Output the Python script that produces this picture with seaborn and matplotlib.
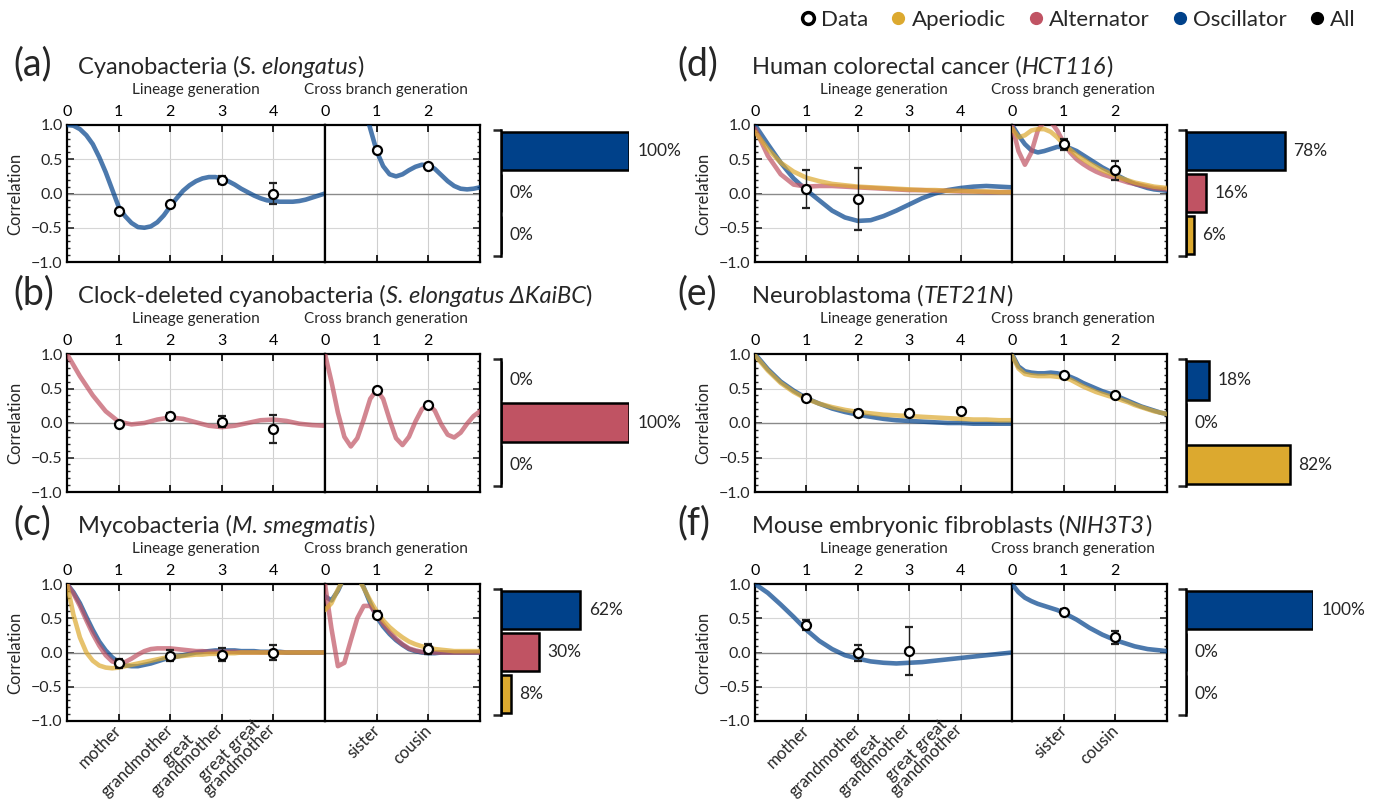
import numpy as np
import pandas as pd
import matplotlib
matplotlib.use("Agg")
import matplotlib.pyplot as plt
import seaborn as sns
from matplotlib.ticker import MultipleLocator, NullLocator
from matplotlib.lines import Line2D

sns.set_theme(style="white")
plt.rcParams['font.family'] = ['Lato', 'DejaVu Sans']
plt.rcParams['axes.unicode_minus'] = True

W, H = 1382, 802

# ---------------- data ----------------
LIN_X = [0.0, 0.25, 0.5, 0.75, 1.0, 1.25, 1.5, 1.75, 2.0, 2.25, 2.5, 2.75, 3.0,
         3.25, 3.5, 3.75, 4.0, 4.25, 4.5, 4.75, 5.0]
LIN_X_FINE = [0.0, 0.125, 0.25, 0.375, 0.5, 0.625, 0.75, 0.875, 1.0, 1.125, 1.25, 1.375,
              1.5, 1.625, 1.75, 1.875, 2.0, 2.125, 2.25, 2.375, 2.5, 2.625, 2.75, 2.875,
              3.0, 3.125, 3.25, 3.375, 3.5, 3.625, 3.75, 3.875, 4.0, 4.125, 4.25, 4.375,
              4.5, 4.625, 4.75, 4.875, 5.0]
CROSS_X = [0.0, 0.125, 0.25, 0.375, 0.5, 0.625, 0.75, 0.875, 1.0, 1.125, 1.25,
           1.375, 1.5, 1.625, 1.75, 1.875, 2.0, 2.125, 2.25, 2.375, 2.5, 2.625,
           2.75, 2.875, 3.0]
LIN_TICKS = [0, 1, 2, 3, 4]
CROSS_TICKS = [0, 1, 2]
LIN_NAMES = ["mother", "grandmother", "great\ngrandmother", "great great\ngrandmother"]
CROSS_NAMES = ["sister", "cousin"]
CATEGORIES = ["Oscillator", "Alternator", "Aperiodic"]
COLORS = {"Oscillator": "#00418a", "Alternator": "#c05363", "Aperiodic": "#dca92f"}

# (a) Cyanobacteria
a_lin_osc = [1.0, 0.99, 0.94, 0.85, 0.72, 0.53, 0.31, 0.06, -0.19, -0.33, -0.43, -0.49,
             -0.5, -0.48, -0.42, -0.32, -0.19, -0.07, 0.04, 0.12, 0.18, 0.22, 0.24, 0.24,
             0.22, 0.18, 0.13, 0.07, 0.02, -0.03, -0.07, -0.1, -0.11, -0.12, -0.12, -0.12,
             -0.11, -0.09, -0.06, -0.03, 0.0]
a_cross_osc = [3.5, 3.1, 2.7, 2.35, 2.0, 1.65, 1.3, 0.95, 0.62, 0.4, 0.28, 0.25, 0.28, 0.34,
               0.39, 0.42, 0.41, 0.36, 0.27, 0.18, 0.11, 0.07, 0.06, 0.07, 0.09]
a_lin_pts_x = [1, 2, 3, 4]
a_lin_pts = [-0.25, -0.16, 0.2, 0.0]
a_lin_err = [0.03, 0.03, 0.06, 0.16]
a_cross_pts_x = [1, 2]
a_cross_pts = [0.63, 0.4]
a_cross_err = [0.04, 0.02]
a_bars = [100, 0, 0]

# (b) Clock-deleted cyanobacteria
b_lin_alt = [1.0, 0.68, 0.4, 0.17, 0.02, -0.02, 0.0, 0.05, 0.08, 0.06, 0.01, -0.04, -0.06,
             -0.04, 0.0, 0.04, 0.05, 0.03, -0.01, -0.03, -0.04]
b_cross_alt = [1.0, 0.6, 0.15, -0.2, -0.34, -0.22, 0.05, 0.35, 0.48, 0.35, 0.05, -0.22, -0.32,
               -0.2, 0.02, 0.2, 0.27, 0.18, -0.02, -0.17, -0.21, -0.14, -0.01, 0.1, 0.17]
b_lin_pts_x = [1, 2, 3, 4]
b_lin_pts = [-0.02, 0.1, 0.02, -0.09]
b_lin_err = [0.04, 0.05, 0.08, 0.2]
b_cross_pts_x = [1, 2]
b_cross_pts = [0.48, 0.26]
b_cross_err = [0.03, 0.03]
b_bars = [0, 100, 0]

# (c) Mycobacteria
c_lin_osc = [1.0, 0.88, 0.72, 0.52, 0.33, 0.16, 0.03, -0.07, -0.14, -0.19, -0.2, -0.2,
             -0.18, -0.16, -0.13, -0.1, -0.08, -0.06, -0.04, -0.02, 0.0, 0.01, 0.02, 0.03,
             0.03, 0.03, 0.03, 0.02, 0.02, 0.02, 0.01, 0.01, 0.01, 0.01, 0.0, 0.0, 0.0,
             0.0, 0.0, 0.0, 0.0]
c_lin_alt = [1.0, 0.86, 0.68, 0.47, 0.27, 0.1, -0.04, -0.13, -0.16, -0.14, -0.09, -0.03,
             0.02, 0.05, 0.06, 0.06, 0.06, 0.05, 0.04, 0.03, 0.02, 0.02, 0.01, 0.01, 0.01,
             0.01, 0.01, 0.0, 0.0, 0.0, 0.0, 0.0, 0.0, 0.0, 0.0, 0.0, 0.0, 0.0, 0.0, 0.0,
             0.0]
c_lin_aper = [1.0, 0.55, 0.22, 0.0, -0.12, -0.19, -0.22, -0.23, -0.22, -0.2, -0.18, -0.16,
              -0.14, -0.12, -0.1, -0.08, -0.07, -0.06, -0.05, -0.04, -0.03, -0.03, -0.02,
              -0.02, -0.01, -0.01, -0.01, 0.0, 0.0, 0.0, 0.0, 0.0, 0.0, 0.0, 0.0, 0.0, 0.0,
              0.0, 0.0, 0.0, 0.0]
c_cross_osc = [0.82, 0.76, 0.9, 1.1, 1.2, 1.12, 0.95, 0.72, 0.52, 0.38, 0.27, 0.18, 0.11,
               0.05, 0.02, 0.0, -0.01, -0.01, 0.0, 0.0, 0.0, 0.0, 0.0, 0.0, 0.0]
c_cross_alt = [1.0, 0.35, -0.2, -0.15, 0.18, 0.5, 0.68, 0.68, 0.56, 0.42, 0.3, 0.2, 0.12,
               0.06, 0.03, 0.01, 0.0, 0.0, 0.0, 0.0, 0.0, 0.0, 0.0, 0.0, 0.0]
c_cross_aper = [0.62, 0.72, 0.92, 1.1, 1.2, 1.12, 0.94, 0.76, 0.6, 0.47, 0.37, 0.29, 0.22,
                0.16, 0.12, 0.09, 0.07, 0.05, 0.04, 0.03, 0.02, 0.02, 0.02, 0.02, 0.02]
c_lin_pts_x = [1, 2, 3, 4]
c_lin_pts = [-0.16, -0.05, -0.03, 0.0]
c_lin_err = [0.07, 0.08, 0.09, 0.11]
c_cross_pts_x = [1, 2]
c_cross_pts = [0.55, 0.05]
c_cross_err = [0.05, 0.07]
c_bars = [62, 30, 8]

# (d) Human colorectal cancer
d_lin_osc = [1.0, 0.72, 0.45, 0.22, 0.05, -0.1, -0.25, -0.35, -0.4, -0.39, -0.33, -0.25,
             -0.16, -0.07, 0.0, 0.05, 0.08, 0.1, 0.11, 0.1, 0.09]
d_lin_alt = [0.95, 0.55, 0.28, 0.13, 0.1, 0.11, 0.11, 0.1, 0.09, 0.08, 0.07, 0.06, 0.05,
             0.05, 0.04, 0.04, 0.03, 0.03, 0.02, 0.02, 0.02]
d_lin_aper = [0.9, 0.65, 0.45, 0.32, 0.23, 0.18, 0.14, 0.12, 0.1, 0.09, 0.08, 0.07, 0.06,
              0.05, 0.05, 0.04, 0.04, 0.03, 0.03, 0.02, 0.02]
d_cross_osc = [1.0, 0.85, 0.72, 0.63, 0.6, 0.62, 0.65, 0.68, 0.68, 0.66, 0.62, 0.56, 0.5,
               0.44, 0.38, 0.33, 0.28, 0.23, 0.18, 0.14, 0.11, 0.08, 0.06, 0.05, 0.04]
d_cross_alt = [1.0, 0.62, 0.42, 0.6, 0.92, 1.05, 1.05, 0.92, 0.74, 0.6, 0.5, 0.43, 0.37,
               0.32, 0.28, 0.25, 0.22, 0.19, 0.16, 0.14, 0.12, 0.1, 0.08, 0.07, 0.06]
d_cross_aper = [0.95, 0.82, 0.85, 0.92, 0.94, 0.94, 0.9, 0.82, 0.72, 0.64, 0.56, 0.5, 0.44,
                0.39, 0.34, 0.3, 0.26, 0.22, 0.19, 0.16, 0.14, 0.12, 0.1, 0.09, 0.08]
d_lin_pts_x = [1, 2]
d_lin_pts = [0.07, -0.08]
d_lin_err = [0.28, 0.45]
d_cross_pts_x = [1, 2]
d_cross_pts = [0.72, 0.34]
d_cross_err = [0.08, 0.14]
d_bars = [78, 16, 6]

# (e) Neuroblastoma
e_lin_osc = [1.0, 0.78, 0.6, 0.47, 0.36, 0.28, 0.21, 0.16, 0.12, 0.09, 0.06, 0.04, 0.03,
             0.02, 0.01, 0.0, 0.0, -0.01, -0.01, -0.01, -0.01]
e_lin_aper = [0.98, 0.76, 0.58, 0.45, 0.35, 0.28, 0.23, 0.19, 0.16, 0.14, 0.12, 0.11, 0.1,
              0.09, 0.08, 0.07, 0.06, 0.05, 0.05, 0.04, 0.04]
e_cross_osc = [1.0, 0.82, 0.75, 0.73, 0.72, 0.72, 0.73, 0.72, 0.7, 0.67, 0.63, 0.58, 0.54,
               0.5, 0.46, 0.43, 0.4, 0.36, 0.32, 0.28, 0.24, 0.21, 0.18, 0.15, 0.13]
e_cross_aper = [0.98, 0.79, 0.71, 0.69, 0.68, 0.68, 0.68, 0.67, 0.66, 0.63, 0.58, 0.53, 0.49,
                0.45, 0.42, 0.39, 0.37, 0.33, 0.3, 0.26, 0.23, 0.2, 0.17, 0.15, 0.13]
e_lin_pts_x = [1, 2, 3, 4]
e_lin_pts = [0.36, 0.15, 0.15, 0.18]
e_lin_err = [0.04, 0.04, 0.04, 0.04]
e_cross_pts_x = [1, 2]
e_cross_pts = [0.69, 0.4]
e_cross_err = [0.03, 0.03]
e_bars = [18, 0, 82]

# (f) Mouse embryonic fibroblasts
f_lin_osc = [1.0, 0.87, 0.7, 0.52, 0.33, 0.17, 0.05, -0.04, -0.09, -0.13, -0.15, -0.16,
             -0.15, -0.14, -0.12, -0.1, -0.08, -0.06, -0.04, -0.02, 0.0]
f_cross_osc = [1.0, 0.88, 0.8, 0.75, 0.71, 0.68, 0.65, 0.62, 0.58, 0.53, 0.48, 0.42, 0.36,
               0.31, 0.26, 0.22, 0.18, 0.15, 0.12, 0.09, 0.07, 0.05, 0.04, 0.03, 0.02]
f_lin_pts_x = [1, 2, 3]
f_lin_pts = [0.4, -0.01, 0.02]
f_lin_err = [0.07, 0.12, 0.35]
f_cross_pts_x = [1, 2]
f_cross_pts = [0.59, 0.22]
f_cross_err = [0.04, 0.09]
f_bars = [100, 0, 0]

# title pieces: (text, style)
TITLES = {
    "a": [("Cyanobacteria (", "normal"), ("S. elongatus", "italic"), (")", "normal")],
    "b": [("Clock-deleted cyanobacteria (", "normal"), ("S. elongatus \u0394KaiBC", "italic"),
          (")", "normal")],
    "c": [("Mycobacteria (", "normal"), ("M. smegmatis", "italic"), (")", "normal")],
    "d": [("Human colorectal cancer (", "normal"), ("HCT116", "italic"), (")", "normal")],
    "e": [("Neuroblastoma (", "normal"), ("TET21N", "italic"), (")", "normal")],
    "f": [("Mouse embryonic fibroblasts (", "normal"), ("NIH3T3", "italic"), (")", "normal")],
}

PANELS = [
    dict(key="a", col=0, row=0,
         lin={"Oscillator": (LIN_X_FINE, a_lin_osc)}, cross={"Oscillator": a_cross_osc},
         lp=(a_lin_pts_x, a_lin_pts, a_lin_err), cp=(a_cross_pts_x, a_cross_pts, a_cross_err),
         bars=a_bars, names=False),
    dict(key="b", col=0, row=1,
         lin={"Alternator": (LIN_X, b_lin_alt)}, cross={"Alternator": b_cross_alt},
         lp=(b_lin_pts_x, b_lin_pts, b_lin_err), cp=(b_cross_pts_x, b_cross_pts, b_cross_err),
         bars=b_bars, names=False),
    dict(key="c", col=0, row=2,
         lin={"Oscillator": (LIN_X_FINE, c_lin_osc), "Alternator": (LIN_X_FINE, c_lin_alt),
              "Aperiodic": (LIN_X_FINE, c_lin_aper)},
         cross={"Oscillator": c_cross_osc, "Alternator": c_cross_alt, "Aperiodic": c_cross_aper},
         lp=(c_lin_pts_x, c_lin_pts, c_lin_err), cp=(c_cross_pts_x, c_cross_pts, c_cross_err),
         bars=c_bars, names=True),
    dict(key="d", col=1, row=0,
         lin={"Oscillator": (LIN_X, d_lin_osc), "Alternator": (LIN_X, d_lin_alt),
              "Aperiodic": (LIN_X, d_lin_aper)},
         cross={"Oscillator": d_cross_osc, "Alternator": d_cross_alt, "Aperiodic": d_cross_aper},
         lp=(d_lin_pts_x, d_lin_pts, d_lin_err), cp=(d_cross_pts_x, d_cross_pts, d_cross_err),
         bars=d_bars, names=False),
    dict(key="e", col=1, row=1,
         lin={"Oscillator": (LIN_X, e_lin_osc), "Aperiodic": (LIN_X, e_lin_aper)},
         cross={"Oscillator": e_cross_osc, "Aperiodic": e_cross_aper},
         lp=(e_lin_pts_x, e_lin_pts, e_lin_err), cp=(e_cross_pts_x, e_cross_pts, e_cross_err),
         bars=e_bars, names=False),
    dict(key="f", col=1, row=2,
         lin={"Oscillator": (LIN_X, f_lin_osc)}, cross={"Oscillator": f_cross_osc},
         lp=(f_lin_pts_x, f_lin_pts, f_lin_err), cp=(f_cross_pts_x, f_cross_pts, f_cross_err),
         bars=f_bars, names=True),
]

# ---------------- layout (pixels) ----------------
ROWS = [(125, 262), (354, 492), (584, 721)]
COLS = [dict(lin=(67, 325), cross=(325, 480), bar=501, barw=128, label=13, title=78),
        dict(lin=(755, 1012), cross=(1012, 1167), bar=1186, barw=127, label=677, title=752)]


def rect(x0, y0, x1, y1):
    return [x0 / W, 1 - y1 / H, (x1 - x0) / W, (y1 - y0) / H]


fig = plt.figure(figsize=(W / 100, H / 100), dpi=100)
fig.patch.set_facecolor("white")
renderer = fig.canvas.get_renderer()

LINE_KW = dict(linewidth=3.3, alpha=0.7, solid_capstyle="round", solid_joinstyle="round")
YT = [-1.0, -0.5, 0.0, 0.5, 1.0]
YTL = ["\u22121.0", "\u22120.5", "0.0", "0.5", "1.0"]


def style_axis(ax, xmax, ticks, left_labels):
    ax.set_xlim(0, xmax)
    ax.set_ylim(-1, 1)
    ax.set_facecolor("white")
    for s in ax.spines.values():
        s.set_visible(True)
        s.set_color("black")
        s.set_linewidth(1.6)
    for xv in ticks[1:]:
        ax.axvline(xv, color="#cfcfcf", lw=0.8, zorder=0.5)
    for yv in (-0.5, 0.5):
        ax.axhline(yv, color="#d6d6d6", lw=0.8, zorder=0.5)
    ax.axhline(0, color="#8a8a8a", lw=1.0, zorder=0.6)
    ax.set_xticks(ticks)
    ax.set_xticklabels([str(t) for t in ticks])
    ax.xaxis.set_minor_locator(NullLocator())
    ax.set_yticks(YT)
    ax.yaxis.set_minor_locator(MultipleLocator(0.1))
    ax.tick_params(axis="x", which="major", direction="in", top=True, bottom=True,
                   labeltop=True, labelbottom=False, length=5, width=1.2,
                   labelsize=11.5, pad=4, colors="black")
    if left_labels:
        ax.set_yticklabels(YTL)
        ax.tick_params(axis="y", which="both", direction="in", left=True, right=False,
                       labelleft=True, labelright=False, labelsize=11.5, pad=3)
    else:
        ax.tick_params(axis="y", which="both", direction="in", left=False, right=True,
                       labelleft=False, labelright=False)
    ax.tick_params(axis="y", which="major", length=5, width=1.2)
    ax.tick_params(axis="y", which="minor", length=2.5, width=1.0)
    ax.set_xlabel("")
    ax.set_ylabel("")


def draw_points(ax, pts):
    x, y, e = pts
    ax.errorbar(x, y, yerr=e, fmt="o", mfc="white", mec="black", mew=1.6, ms=6.5,
                ecolor="#222222", elinewidth=1.0, capsize=3, capthick=1.0, zorder=6)


def rich_text(x_px, base_px, pieces, size):
    x = x_px
    for s, style in pieces:
        t = fig.text(x / W, 1 - base_px / H, s, fontsize=size, style=style,
                     ha="left", va="baseline")
        bb = t.get_window_extent(renderer)
        x = bb.x1


for p in PANELS:
    top, bot = ROWS[p["row"]]
    c = COLS[p["col"]]
    axl = fig.add_axes(rect(c["lin"][0], top, c["lin"][1], bot))
    axc = fig.add_axes(rect(c["cross"][0], top, c["cross"][1], bot))

    for cat in CATEGORIES:
        if cat in p["lin"]:
            xs, ys = p["lin"][cat]
            sns.lineplot(x=xs, y=ys, ax=axl, color=COLORS[cat], zorder=3, **LINE_KW)
        if cat in p["cross"]:
            sns.lineplot(x=CROSS_X, y=p["cross"][cat], ax=axc, color=COLORS[cat], zorder=3,
                         **LINE_KW)

    style_axis(axl, 5, LIN_TICKS, True)
    style_axis(axc, 3, CROSS_TICKS, False)
    draw_points(axl, p["lp"])
    draw_points(axc, p["cp"])

    axl.set_ylabel("Correlation", fontsize=12, labelpad=6)

    if p["names"]:
        for xv, nm in zip([1, 2, 3, 4], LIN_NAMES):
            axl.annotate(nm, xy=(xv, 0), xycoords=("data", "axes fraction"),
                         xytext=(3, -7.5), textcoords="offset points", rotation=45,
                         ha="right", va="baseline", rotation_mode="anchor", fontsize=12,
                         multialignment="center", linespacing=0.8, annotation_clip=False)
        for xv, nm in zip([1, 2], CROSS_NAMES):
            axc.annotate(nm, xy=(xv, 0), xycoords=("data", "axes fraction"),
                         xytext=(3, -7.5), textcoords="offset points", rotation=45,
                         ha="right", va="baseline", rotation_mode="anchor", fontsize=12,
                         annotation_clip=False)

    # axis group titles
    fig.text((c["lin"][0] + c["lin"][1]) / 2 / W, 1 - (top - 35) / H, "Lineage generation",
             ha="center", va="center", fontsize=11)
    fig.text((c["cross"][0] + 61) / W, 1 - (top - 35) / H, "Cross branch generation",
             ha="center", va="center", fontsize=11)
    # panel label and title
    fig.text(c["label"] / W, 1 - (top - 50) / H, "(" + p["key"] + ")", ha="left",
             va="baseline", fontsize=27)
    rich_text(c["title"], top - 51, TITLES[p["key"]], 17)

    # bar chart of category fractions
    bax = fig.add_axes(rect(c["bar"], top + 5, c["bar"] + c["barw"], bot - 6))
    bdf = pd.DataFrame({"cat": CATEGORIES, "pct": p["bars"]})
    sns.barplot(data=bdf, x="pct", y="cat", hue="cat", palette=COLORS, order=CATEGORIES,
                hue_order=CATEGORIES, orient="h", ax=bax, edgecolor="black", linewidth=1.8,
                width=0.92, legend=False, saturation=1)
    bax.set_xlim(0, 100)
    bax.set_ylim(2.5, -0.5)
    bax.set_facecolor("none")
    for side in ("top", "right", "bottom"):
        bax.spines[side].set_visible(False)
    bax.spines["left"].set_visible(True)
    bax.spines["left"].set_color("black")
    bax.spines["left"].set_linewidth(1.8)
    bax.set_xticks([])
    bax.set_yticks([-0.5, 2.5])
    bax.tick_params(axis="y", direction="out", length=6, width=1.8, labelleft=False, left=True)
    bax.set_xlabel("")
    bax.set_ylabel("")
    for i, v in enumerate(p["bars"]):
        bax.annotate(f"{v}%", xy=(v, i), xytext=(6, 0), textcoords="offset points",
                     ha="left", va="center", fontsize=12.5, annotation_clip=False)

# legend
handles = [
    Line2D([], [], ls="", marker="o", ms=8.5, mfc="white", mec="black", mew=2.5, label="Data"),
    Line2D([], [], ls="", marker="o", ms=8.5, color=COLORS["Aperiodic"], label="Aperiodic"),
    Line2D([], [], ls="", marker="o", ms=8.5, color=COLORS["Alternator"], label="Alternator"),
    Line2D([], [], ls="", marker="o", ms=8.5, color=COLORS["Oscillator"], label="Oscillator"),
    Line2D([], [], ls="", marker="o", ms=8.5, color="black", label="All"),
]
fig.legend(handles=handles, loc="upper right", bbox_to_anchor=(1356 / W, 1 - 10 / H),
           ncol=5, frameon=False, fontsize=16, handletextpad=0.2, columnspacing=0.95,
           handlelength=0.8, borderaxespad=0, borderpad=0)

fig.savefig("out.png", dpi=100, facecolor="white")
